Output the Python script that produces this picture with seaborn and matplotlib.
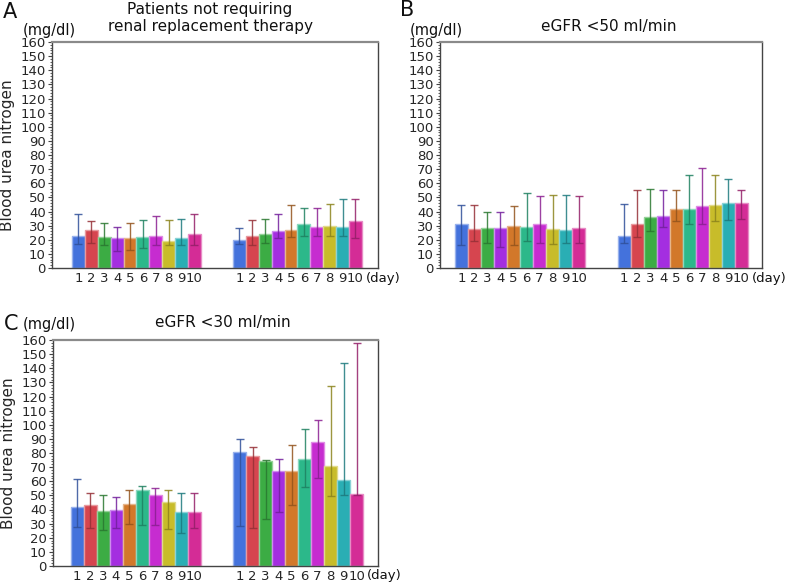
import numpy as np
import pandas as pd
import matplotlib
matplotlib.use("Agg")
import matplotlib.pyplot as plt
import matplotlib.colors as mcolors
from matplotlib.ticker import MultipleLocator
import seaborn as sns

# ── DATA ─────────────────────────────────────────────────────────────────────
days = ["1", "2", "3", "4", "5", "6", "7", "8", "9", "10"]

# panel A: patients not requiring renal replacement therapy
A1_med = [23, 27, 22, 21.5, 21, 22, 23, 19, 21, 24]
A1_lo = [17, 18, 16, 12, 13, 14, 16, 16, 16, 16]
A1_hi = [38, 33, 32, 29, 32, 34, 37, 34, 35, 38]
A2_med = [20, 23, 24, 26.5, 27, 31, 29, 30, 29, 33]
A2_lo = [17, 16, 18, 21, 22, 23, 23, 23, 23, 21]
A2_hi = [28, 34, 35, 38, 44.5, 42.5, 42.5, 45, 48.5, 48.5]

# panel B: eGFR <50 ml/min
B1_med = [31.5, 27.5, 28.5, 28, 30, 29, 31, 27.5, 27, 28]
B1_lo = [16, 19, 18, 15, 16, 19, 18, 17, 17.5, 18]
B1_hi = [44.5, 44.5, 40, 40, 44, 53, 51, 52, 51.5, 51]
B2_med = [23, 31.5, 36, 37, 41.5, 41.5, 44, 44.5, 46, 46]
B2_lo = [18, 22, 26, 29, 33, 31, 31, 33, 34, 35]
B2_hi = [45.5, 55.5, 56, 55, 55, 66, 71, 66, 63, 55]

# panel C: eGFR <30 ml/min
C1_med = [41.5, 43.5, 39, 39.5, 44, 54, 50, 45, 38.5, 38]
C1_lo = [27.5, 27, 25.5, 27, 30, 29, 29, 26, 23.5, 27]
C1_hi = [61.5, 52, 50, 48.5, 54, 56.5, 55, 54, 52, 52]
C2_med = [81, 78, 74, 67.5, 67.5, 75.5, 87.5, 71, 61, 51]
C2_lo = [28, 27, 33.5, 38, 43.5, 56, 62, 49.5, 50.5, 50]
C2_hi = [90, 84.5, 75, 75.5, 86, 97, 103.5, 127.5, 144, 158]

bar_colors = ["#4472dc", "#d6454f", "#3cac44", "#a42ee0", "#d2782a",
              "#2cb88a", "#c62cd0", "#c8bc2a", "#2aaeb4", "#d42c96"]

GROUP_OFFSET = 12.5

# ── STYLE ────────────────────────────────────────────────────────────────────
sns.set_style("ticks")
plt.rcParams["font.family"] = ["DejaVu Sans"]
plt.rcParams["text.color"] = "#111111"


def shade(color, f):
    rgb = np.array(mcolors.to_rgb(color))
    if f < 1:
        return tuple(rgb * f)
    return tuple(rgb + (1 - rgb) * (f - 1))


def draw_panel(ax, g1, g2, xlim, ylabel=True):
    (m1, l1, h1), (m2, l2, h2) = g1, g2
    pos = np.arange(1, 11)
    df = pd.DataFrame({
        "pos": np.concatenate([pos, pos + GROUP_OFFSET]),
        "day": days + days,
        "bun": m1 + m2,
    })
    sns.barplot(data=df, x="pos", y="bun", hue="day", hue_order=days,
                palette=bar_colors, saturation=1, native_scale=True,
                dodge=False, width=1.0, errorbar=None, legend=False,
                linewidth=1.0, ax=ax)
    for p in ax.patches:
        p.set_edgecolor(shade(p.get_facecolor(), 1.45))

    # interquartile whiskers in a darker shade of each bar
    for i, c in enumerate(bar_colors):
        for x0, m, lo, hi in ((pos[i], m1[i], l1[i], h1[i]),
                              (pos[i] + GROUP_OFFSET, m2[i], l2[i], h2[i])):
            ax.errorbar([x0], [m], yerr=[[m - lo], [hi - m]], fmt="none",
                        ecolor=shade(c, 0.7), elinewidth=1.0, capsize=3,
                        capthick=1.0, alpha=0.85, zorder=3)

    ax.set_xlim(*xlim)
    ax.set_ylim(0, 160)
    ax.yaxis.set_major_locator(MultipleLocator(10))
    ax.yaxis.set_minor_locator(MultipleLocator(2))
    ax.tick_params(axis="y", which="major", length=3, width=0.8,
                   labelsize=9.5, pad=1.5, color="#444444")
    ax.tick_params(axis="y", which="minor", length=1.8, width=0.6,
                   color="#444444")
    ax.set_xticks(np.concatenate([pos, pos + GROUP_OFFSET]))
    ax.set_xticklabels(days + days)
    ax.tick_params(axis="x", length=0, labelsize=9.5, pad=3)
    ax.set_xlabel("")
    if ylabel:
        ax.set_ylabel("Blood urea nitrogen", fontsize=11, labelpad=4)
    else:
        ax.set_ylabel("")
    ax.annotate("(day)", xy=(23.3, 0), xycoords=("data", "axes fraction"),
                xytext=(0, -10), textcoords="offset pixels",
                ha="left", va="center", fontsize=9.5, annotation_clip=False)

    for side in ("left", "bottom", "right"):
        ax.spines[side].set_color("#444444")
        ax.spines[side].set_linewidth(1.0)
    ax.spines["top"].set_color("#8a8a8a")
    ax.spines["top"].set_linewidth(1.6)


fig = plt.figure(figsize=(7.86, 5.84), dpi=100)
W, H = 786, 584


def px_axes(left, top, right, bottom):
    return fig.add_axes([left / W, 1 - bottom / H, (right - left) / W, (bottom - top) / H])


axA = px_axes(52, 42, 378, 268)
axB = px_axes(440, 42, 762, 268)
axC = px_axes(53, 340, 378, 566)

draw_panel(axA, (A1_med, A1_lo, A1_hi), (A2_med, A2_lo, A2_hi), (-1.05, 24.25))
draw_panel(axB, (B1_med, B1_lo, B1_hi), (B2_med, B2_lo, B2_hi), (-0.65, 24.1),
           ylabel=False)
draw_panel(axC, (C1_med, C1_lo, C1_hi), (C2_med, C2_lo, C2_hi), (-0.85, 24.15))


def ftext(x, y, s, **kw):
    fig.text(x / W, 1 - y / H, s, **kw)


# panel letters, units and titles
ftext(3, 12, "A", fontsize=15, ha="left", va="center")
ftext(400, 10, "B", fontsize=15, ha="left", va="center")
ftext(4, 324, "C", fontsize=15, ha="left", va="center")

ftext(23, 30, "(mg/dl)", fontsize=10.5, ha="left", va="center")
ftext(410, 30, "(mg/dl)", fontsize=10.5, ha="left", va="center")
ftext(23, 325, "(mg/dl)", fontsize=10.5, ha="left", va="center")

ftext(210, 18, "Patients not requiring\nrenal replacement therapy",
      fontsize=11, ha="center", va="center", linespacing=1.15)
ftext(609, 26, "eGFR <50 ml/min", fontsize=11, ha="center", va="center")
ftext(223, 323, "eGFR <30 ml/min", fontsize=11, ha="center", va="center")

fig.savefig("out.png", dpi=100, facecolor="white")
